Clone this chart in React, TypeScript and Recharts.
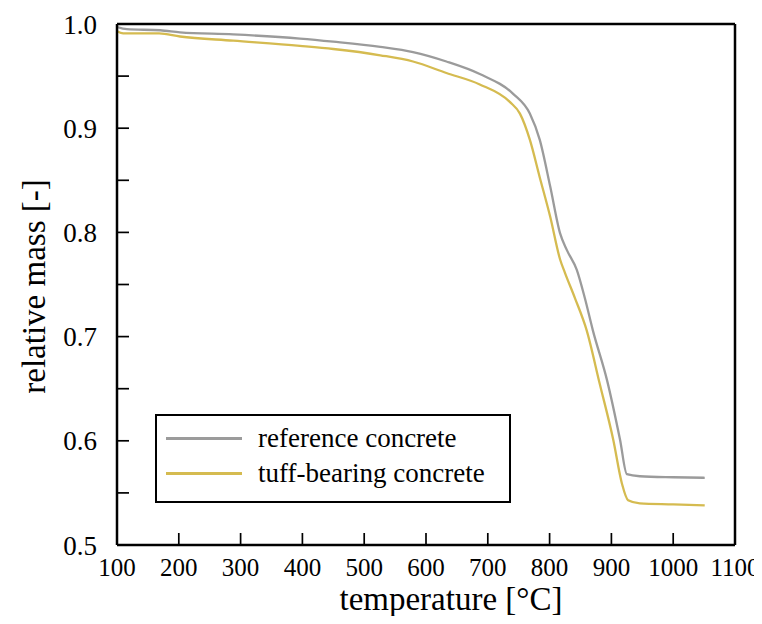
import React from "react";
import { LineChart, Line, XAxis, YAxis } from "recharts";

// temperatures [°C] and relative mass
const refTemp = [100, 116, 170, 202, 288, 396, 450, 526, 579, 633, 687, 741, 768, 784, 801, 817, 828, 844, 857, 870, 893, 914, 925, 946, 1000, 1051];
const refMass = [0.997, 0.995, 0.994, 0.992, 0.99, 0.986, 0.983, 0.978, 0.973, 0.964, 0.952, 0.933, 0.914, 0.889, 0.844, 0.799, 0.783, 0.764, 0.737, 0.706, 0.658, 0.601, 0.568, 0.566, 0.565, 0.5645];

const tuffTemp = [100, 110, 168, 202, 288, 396, 450, 526, 579, 633, 687, 736, 752, 768, 784, 801, 817, 825, 841, 860, 881, 903, 917, 927, 946, 1000, 1051];
const tuffMass = [0.993, 0.991, 0.991, 0.988, 0.984, 0.979, 0.976, 0.97, 0.964, 0.953, 0.942, 0.925, 0.914, 0.889, 0.853, 0.815, 0.774, 0.761, 0.737, 0.706, 0.655, 0.601, 0.559, 0.543, 0.54, 0.539, 0.538];

const xTicks = [100, 200, 300, 400, 500, 600, 700, 800, 900, 1000, 1100];
const yTicks = [0.5, 0.55, 0.6, 0.65, 0.7, 0.75, 0.8, 0.85, 0.9, 0.95, 1.0];

const seriesNames = ["reference concrete", "tuff-bearing concrete"];
const seriesColors = ["#9b9b9b", "#d5bb50"];

const refData = refTemp.map((t, i) => ({ temp: t, mass: refMass[i] }));
const tuffData = tuffTemp.map((t, i) => ({ temp: t, mass: tuffMass[i] }));

const FONT = "'Liberation Serif', 'Times New Roman', serif";
const axisLine = { stroke: "#000", strokeWidth: 2.5 };
const tickLine = { stroke: "#000", strokeWidth: 1.7 };

const XTick = (props: any) => {
  return (
    <text x={props.x} y={props.y} textAnchor="middle" fontFamily={FONT} fontSize={25} fill="#000">
      {props.payload.value}
    </text>
  );
};

const YTick = (props: any) => {
  const v = props.payload.value;
  if (Math.round(v * 100) % 10 !== 0) return <g />;
  return (
    <text x={props.x} y={props.y} dy={9.5} textAnchor="end" fontFamily={FONT} fontSize={27} fill="#000">
      {v.toFixed(1)}
    </text>
  );
};

const NoTick = () => <g />;

const XTitle = (props: any) => {
  const vb = props.viewBox;
  return (
    <text x={vb.x + vb.width / 2 + 25} y={vb.y + 65} textAnchor="middle" fontFamily={FONT} fontSize={33} fill="#000">
      temperature [°C]
    </text>
  );
};

const YTitle = (props: any) => {
  const vb = props.viewBox;
  const cx = vb.x + 37;
  const cy = vb.y + vb.height / 2 + 2;
  return (
    <text x={cx} y={cy} transform={`rotate(-90, ${cx}, ${cy})`} textAnchor="middle" fontFamily={FONT} fontSize={33} fill="#000">
      relative mass [-]
    </text>
  );
};

const App = () => {
  return (
    <div style={{ position: "relative", width: 754, height: 608 }}>
      <style>{`html, body { overflow: hidden; } .recharts-surface { overflow: visible; }`}</style>
      <LineChart width={754} height={616} margin={{ top: 15, right: 26, bottom: 0, left: 0 }}>
        <XAxis
          dataKey="temp"
          type="number"
          domain={[100, 1100]}
          ticks={xTicks}
          allowDataOverflow
          height={79}
          axisLine={axisLine}
          tickLine={tickLine}
          tickSize={-12}
          tickMargin={43}
          tick={XTick}
          label={XTitle}
        />
        <XAxis
          xAxisId="top"
          orientation="top"
          type="number"
          domain={[100, 1100]}
          ticks={xTicks}
          height={1}
          axisLine={axisLine}
          tickLine={tickLine}
          tickSize={-12}
          tick={NoTick}
        />
        <YAxis
          type="number"
          domain={[0.5, 1.0]}
          ticks={yTicks}
          allowDataOverflow
          width={109}
          axisLine={axisLine}
          tickLine={tickLine}
          tickSize={-12}
          tickMargin={32}
          tick={YTick}
          label={YTitle}
        />
        <YAxis
          yAxisId="right"
          orientation="right"
          type="number"
          domain={[0.5, 1.0]}
          ticks={yTicks}
          width={1}
          axisLine={axisLine}
          tickLine={tickLine}
          tickSize={-12}
          tick={NoTick}
        />
        <Line
          data={refData}
          dataKey="mass"
          name={seriesNames[0]}
          type="monotone"
          stroke={seriesColors[0]}
          strokeWidth={2.3}
          dot={false}
          isAnimationActive={false}
        />
        <Line
          data={tuffData}
          dataKey="mass"
          name={seriesNames[1]}
          type="monotone"
          stroke={seriesColors[1]}
          strokeWidth={2.3}
          dot={false}
          isAnimationActive={false}
        />
      </LineChart>
      <div
        style={{
          position: "absolute",
          left: 147,
          top: 406,
          width: 356,
          height: 89,
          boxSizing: "border-box",
          border: "2.5px solid #000",
          background: "#fff",
          paddingTop: 5,
          fontFamily: FONT,
          fontSize: 27,
        }}
      >
        {seriesNames.map((name, i) => (
          <div key={name} style={{ display: "flex", alignItems: "center", height: 35 }}>
            <div style={{ marginLeft: 9, width: 76, height: 2.5, background: seriesColors[i] }} />
            <span style={{ marginLeft: 16, lineHeight: "35px" }}>{name}</span>
          </div>
        ))}
      </div>
    </div>
  );
};

export default App;
